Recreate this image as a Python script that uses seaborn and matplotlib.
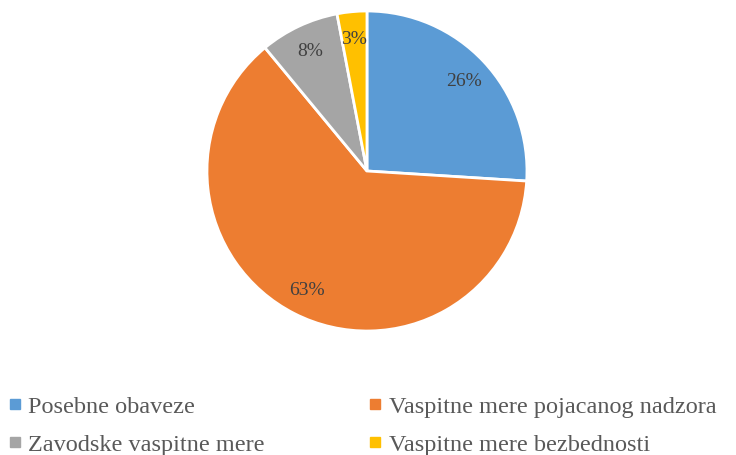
import matplotlib
matplotlib.use('Agg')
import matplotlib.pyplot as plt
import seaborn as sns
from matplotlib.lines import Line2D

# data
categories = ['Posebne obaveze', 'Vaspitne mere pojacanog nadzora',
              'Zavodske vaspitne mere', 'Vaspitne mere bezbednosti']
shares = [26, 63, 8, 3]
colors = ['#5B9BD5', '#ED7D31', '#A5A5A5', '#FFC000']

sns.set_theme(style='white')
plt.rcParams['font.family'] = ['Liberation Serif', 'DejaVu Serif']

fig = plt.figure(figsize=(7.36, 4.56), dpi=100)
ax = fig.add_axes([0.4986 - 0.2174, 0.6228 - 0.351, 0.4348, 0.702])

wedges, texts, autotexts = ax.pie(
    shares, colors=colors, startangle=90, counterclock=False,
    autopct='%1.0f%%', pctdistance=0.83,
    wedgeprops=dict(edgecolor='white', linewidth=2),
    textprops=dict(color='#404040', fontsize=14))
ax.set_xlim(-1, 1)
ax.set_ylim(-1, 1)
ax.set_aspect('equal')

# legend filled row by row like the original
handles = [Line2D([], [], marker='s', linestyle='none', markersize=7,
                  markerfacecolor=c, markeredgecolor=c) for c in colors]
order = [0, 2, 1, 3]
fig.legend([handles[i] for i in order], [categories[i] for i in order],
           loc='upper left', bbox_to_anchor=(-0.003, 0.152),
           ncol=2, frameon=False, fontsize=17.5, labelcolor='#595959',
           handlelength=0.6, handletextpad=0.25, columnspacing=4.25,
           labelspacing=0.65, borderaxespad=0)

fig.savefig('out.png', dpi=100)
